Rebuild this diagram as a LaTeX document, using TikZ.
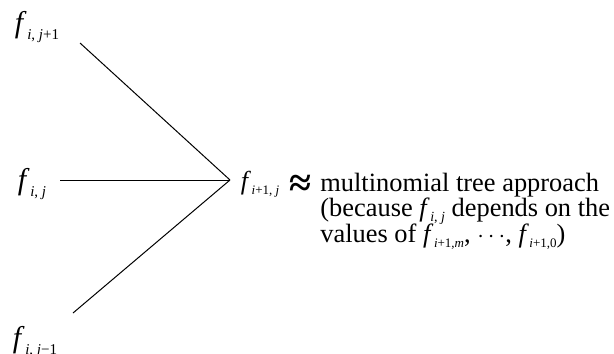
\documentclass[tikz,border=0pt]{standalone}
\usepackage{fontspec}
\setmainfont{Liberation Serif}
\usepackage{tikz}
\usetikzlibrary{positioning,calc}
%% f with a small lowered index
\newcommand{\fv}[2][7]{\textit{f}\kern0.3pt\raisebox{-0.45ex}{\fontsize{#1}{#1}\selectfont #2}}
\newcommand{\mns}{\char"2212\relax}
\tikzset{
  flbl/.style={inner sep=0pt,font=\fontsize{15}{17}\selectfont},
  txt/.style={inner sep=0pt,anchor=base west,font=\fontsize{13.2}{14}\selectfont},
  edg/.style={line width=0.5pt,black},
}

\begin{document}
\begin{tikzpicture}[x=0.5pt,y=-0.5pt]
  \useasboundingbox (0,0) rectangle (614,353);
  %% Nodes on the left
  \node[flbl] (up)  at (37,27)  {\fv[7.5]{\textit{i}, \textit{j}+1}};
  \node[flbl] (mid) at (32,184) {\fv[7.5]{\textit{i}, \textit{j}}};
  \node[flbl] (dn)  at (35,342) {\fv[7.5]{\textit{i}, \textit{j}\mns1}};
  %% Joining point
  \coordinate (J) at (230,180);
  \node[flbl,font=\fontsize{13}{15}\selectfont] (nx) at (260,184)
    {\fv[6.5]{\textit{i}+1, \textit{j}}};
  \node[inner sep=0pt,font=\fontsize{20}{20}\selectfont\bfseries] (ap)
    at (300,186) {≈};
  %% Edges
  \coordinate (a1) at (80,43);
  \coordinate (a2) at (60,180);
  \coordinate (a3) at (73,313);
  \draw[edg] (a1) -- (J);
  \draw[edg] (a2) -- (J);
  \draw[edg] (a3) -- (J);
  %% Explanation
  \node[txt] (l1) at (320,191) {multinomial tree approach};
  \node[txt] (l2) at (320,216)
    {(because \fv{\textit{i}, \textit{j}} depends on the};
  \node[txt] (l3) at (320,242)
    {values of \fv[6.5]{\textit{i}+1,\textit{m}}, $\cdots$, \fv[6.5]{\textit{i}+1,0})};
\end{tikzpicture}
\end{document}
